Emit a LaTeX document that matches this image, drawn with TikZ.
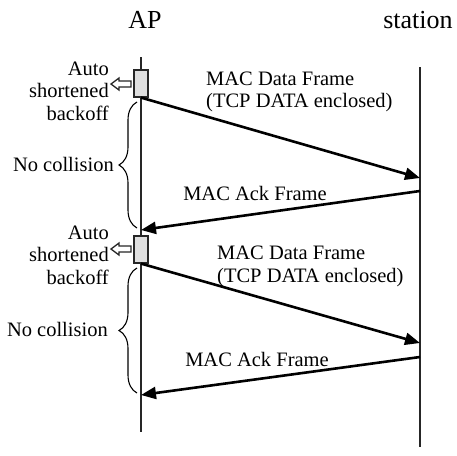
\documentclass[tikz,border=0pt]{standalone}
\usepackage{fontspec}
\setmainfont{Liberation Serif}
\usetikzlibrary{arrows.meta,decorations.pathreplacing}
\begin{document}
\begin{tikzpicture}[x=1pt,y=-1pt,
  txt/.style={font=\fontsize{20.5}{22.5}\selectfont, inner sep=0pt},
  ttl/.style={font=\fontsize{26}{28}\selectfont, inner sep=0pt},
  life/.style={line width=1.4pt, draw=black!85},
  msg/.style={line width=2.6pt, -{Triangle[length=15pt,width=12pt]}},
  bkoff/.style={draw=black!85, line width=1.2pt, fill=gray!25, minimum width=14pt, minimum height=27pt, inner sep=0pt},
  hollow/.style={draw=black!85, line width=1.3pt, fill=white},
  brc/.style={decorate, decoration={brace, amplitude=18pt}, line width=1.1pt}]
\useasboundingbox (0,0) rectangle (457,455);
% titles
\node[ttl, anchor=base] (ap) at (145,28) {AP};
\node[ttl, anchor=base] (st) at (418,28) {station};
% lifelines
\coordinate (apT) at (141,57);
\coordinate (apB) at (141,432);
\coordinate (stT) at (420,67);
\coordinate (stB) at (420,447);
\draw[life] (apT) -- (apB);
\draw[life] (stT) -- (stB);
% backoff boxes
\node[bkoff] (b1) at (141,83.5) {};
\node[bkoff] (b2) at (141,249.5) {};
% hollow arrows
\draw[hollow] (131,81) -- (119,81) -- (119,78) -- (111,84) -- (119,90) -- (119,87) -- (131,87) -- cycle;
\draw[hollow] (131,246) -- (119,246) -- (119,243) -- (111,249) -- (119,255) -- (119,252) -- (131,252) -- cycle;
% backoff labels
\node[txt, anchor=east, align=right] (l1) at (109,91) {Auto\\[0pt]shortened\\backoff};
\node[txt, anchor=east, align=right] (l2) at (109,255) {Auto\\shortened\\backoff};
% message endpoints
\coordinate (s1) at (420,178);
\coordinate (s1a) at (420,191);
\coordinate (a1) at (141,230);
\coordinate (s2) at (420,343);
\coordinate (s2a) at (420,357);
\coordinate (a2) at (141,395);
\draw[msg] (b1.south) -- (s1);
\draw[msg] (s1a) -- (a1);
\draw[msg] (b2.south) -- (s2);
\draw[msg] (s2a) -- (a2);
% message labels
\node[txt, anchor=west, align=left] (m1) at (206,92) {MAC Data Frame\\(TCP DATA enclosed)};
\node[txt, anchor=west, align=left] (m2) at (217,266.5) {MAC Data Frame\\(TCP DATA enclosed)};
\node[txt] (k1) at (255,193) {MAC Ack Frame};
\node[txt] (k2) at (257,359) {MAC Ack Frame};
% braces
\coordinate (c1b) at (137,228);
\coordinate (c1t) at (137,102);
\coordinate (c2b) at (137,393);
\coordinate (c2t) at (137,268);
\draw[brc] (c1b) -- (c1t);
\draw[brc] (c2b) -- (c2t);
\node[txt, anchor=east] (n1) at (114,164) {No collision};
\node[txt, anchor=east] (n2) at (108,329) {No collision};
\end{tikzpicture}
\end{document}
